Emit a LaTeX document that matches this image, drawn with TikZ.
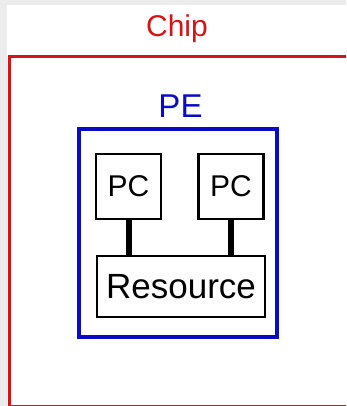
\documentclass[tikz,border=0pt]{standalone}
\usepackage{fontspec}
\setmainfont{Liberation Sans}
\definecolor{chipred}{RGB}{214,20,24}
\definecolor{peblue}{RGB}{10,10,200}
\definecolor{bggrey}{RGB}{236,236,236}
\begin{document}
\begin{tikzpicture}[x=1pt,y=-1pt,
  every node/.style={inner sep=0pt,outer sep=0pt},
  unit/.style={draw=black,line width=2.8pt,fill=white,font=\fontsize{30}{36}\selectfont},
  link/.style={line width=6pt,black}]
  \useasboundingbox (0,0) rectangle (346,406);
  \clip (0,0) rectangle (346,406);
  \fill[bggrey] (0,0) rectangle (346,406);
  \fill[white] (7,5) rectangle (346,406);
  % chip and pe frames
  \node[draw=chipred,line width=3pt,minimum width=350pt,minimum height=349pt,anchor=north west] (chip) at (9,57) {};
  \node[text=chipred,font=\fontsize{30}{36}\selectfont,anchor=base] (chiplabel) at (177,37) {Chip};
  \node[draw=peblue,line width=3.2pt,minimum width=198pt,minimum height=208pt] (pe) at (178,233) {};
  \node[text=peblue,font=\fontsize{33}{40}\selectfont,anchor=base] (pelabel) at (180.5,118) {PE};
  % units inside the pe
  \node[unit,minimum width=65pt,minimum height=65pt] (pc1) at (128.5,186.5) {PC};
  \node[unit,minimum width=65pt,minimum height=65pt] (pc2) at (231,186.5) {PC};
  \node[unit,minimum width=168pt,minimum height=61pt,font=\fontsize{35}{42}\selectfont] (res) at (181,286.5) {Resource};
  \draw[link] (pc1.south) -- (pc1.south |- res.north);
  \draw[link] (pc2.south) -- (pc2.south |- res.north);
\end{tikzpicture}
\end{document}
